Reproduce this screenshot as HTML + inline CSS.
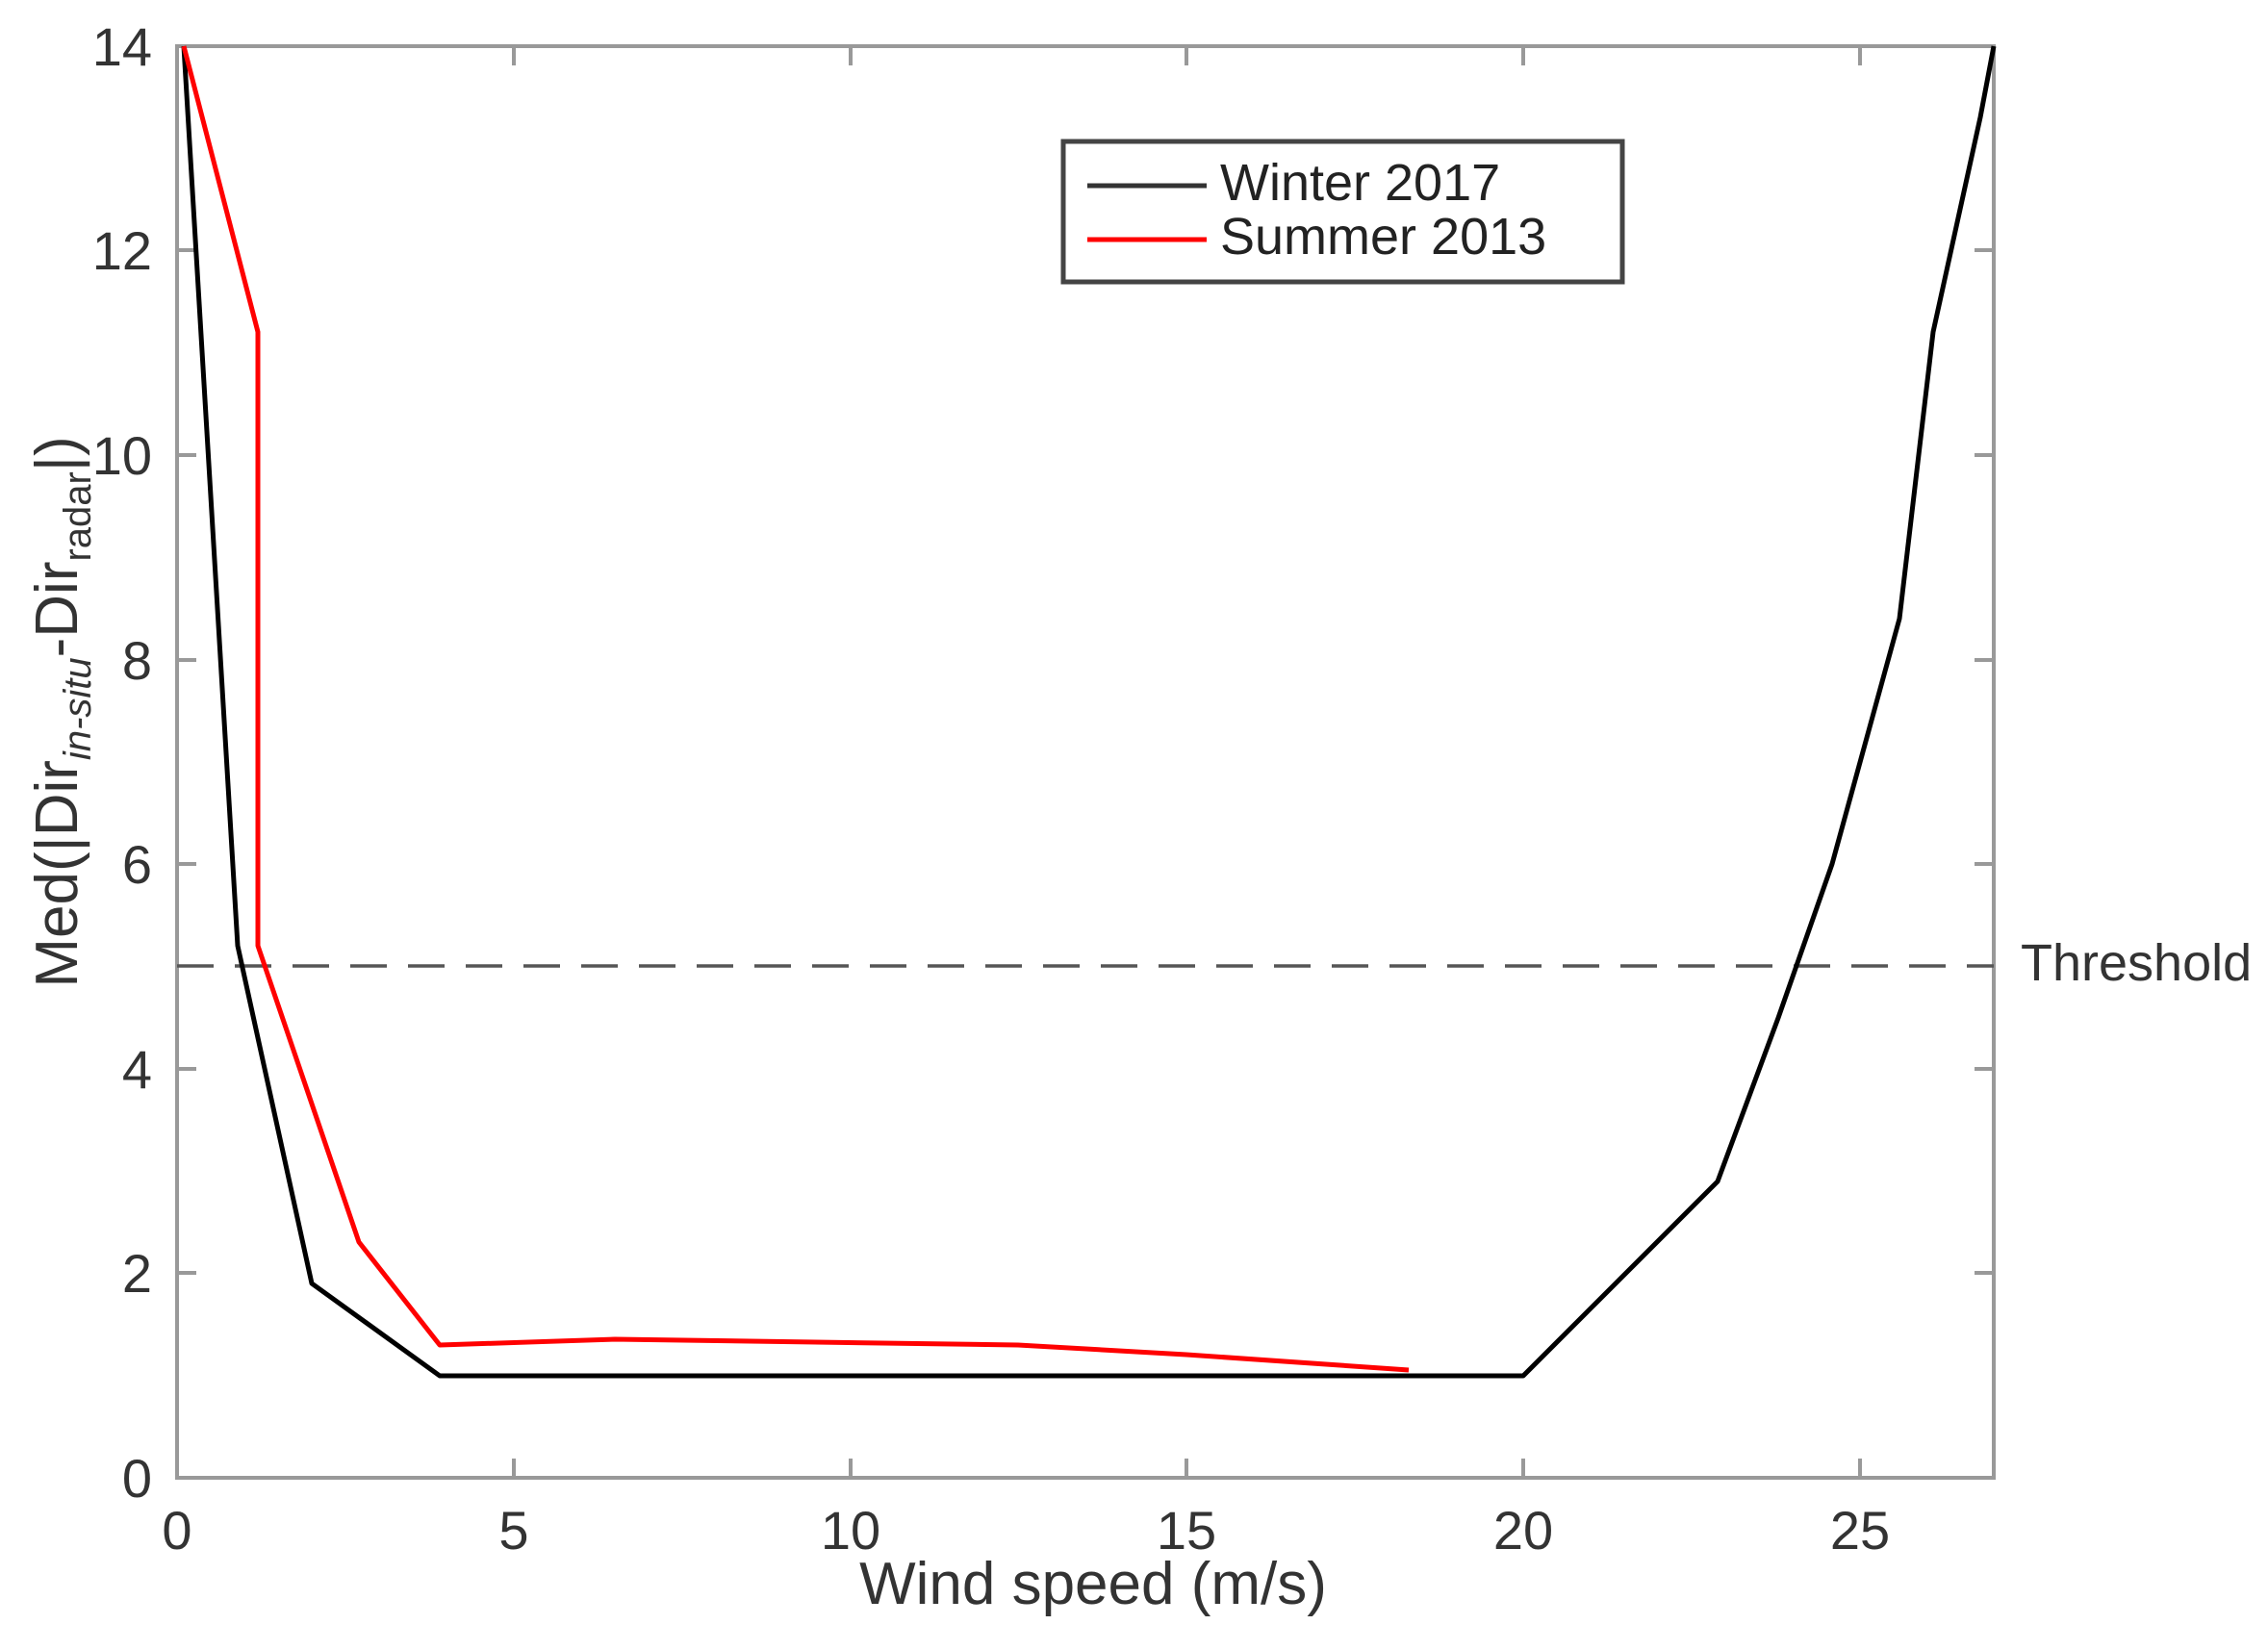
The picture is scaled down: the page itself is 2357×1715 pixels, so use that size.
<!DOCTYPE html>
<html><head><meta charset="utf-8"><style>body{margin:0;background:#fff}svg{display:block}</style></head>
<body>
<svg width="2357" height="1715" viewBox="0 0 2357 1715" xmlns="http://www.w3.org/2000/svg" font-family="Liberation Sans, Arial, sans-serif">
<rect width="2357" height="1715" fill="#fff"/>
<g stroke="#999" stroke-width="4" fill="none">
<rect x="184" y="48" width="1888" height="1488"/>
<path d="M534 1536v-20M884 1536v-20M1233 1536v-20M1583 1536v-20M1933 1536v-20M534 48v20M884 48v20M1233 48v20M1583 48v20M1933 48v20"/>
<path d="M184 1323h20M184 1111h20M184 898h20M184 686h20M184 473h20M184 260h20M2072 1323h-20M2072 1111h-20M2072 898h-20M2072 686h-20M2072 473h-20M2072 260h-20"/>
</g>
<line x1="184" y1="1004" x2="2072" y2="1004" stroke="#555" stroke-width="3.5" stroke-dasharray="38,22"/>
<g fill="#333" font-size="56">
<g text-anchor="end">
<text x="158" y="1556">0</text><text x="158" y="1343">2</text><text x="158" y="1131">4</text>
<text x="158" y="918">6</text><text x="158" y="706">8</text><text x="158" y="493">10</text>
<text x="158" y="280">12</text><text x="158" y="68">14</text>
</g>
<g text-anchor="middle">
<text x="184" y="1610">0</text><text x="534" y="1610">5</text><text x="884" y="1610">10</text>
<text x="1233" y="1610">15</text><text x="1583" y="1610">20</text><text x="1933" y="1610">25</text>
</g>
<text x="2100" y="1019" font-size="54">Threshold</text>
<text x="1136" y="1667" font-size="62" text-anchor="middle">Wind speed (m/s)</text>
<text transform="translate(80,740) rotate(-90)" font-size="62" text-anchor="middle">Med(|Dir<tspan font-size="40" font-style="italic" dy="14">in-situ</tspan><tspan dy="-14">-Dir</tspan><tspan font-size="40" dy="14">radar</tspan><tspan dy="-14">|)</tspan></text>
</g>
<polyline fill="none" stroke="#000" stroke-width="5" stroke-linejoin="round" points="191,48 247,983 324,1334 457,1430 1583,1430 1785,1228 1848,1058 1904,898 1974,643 2009,345 2058,122 2072,48"/>
<polyline fill="none" stroke="#f00" stroke-width="5" stroke-linejoin="round" points="191,48 268,345 268,983 373,1291 457,1398 639,1392 1058,1398 1233,1408 1464,1424"/>
<rect x="1105" y="147" width="581" height="146" fill="#fff" stroke="#444" stroke-width="5"/>
<line x1="1130" y1="193" x2="1254" y2="193" stroke="#333" stroke-width="5"/>
<line x1="1130" y1="249" x2="1254" y2="249" stroke="#f00" stroke-width="5"/>
<g fill="#222" font-size="54">
<text x="1268" y="208">Winter 2017</text>
<text x="1268" y="264">Summer 2013</text>
</g>
</svg>
</body></html>
